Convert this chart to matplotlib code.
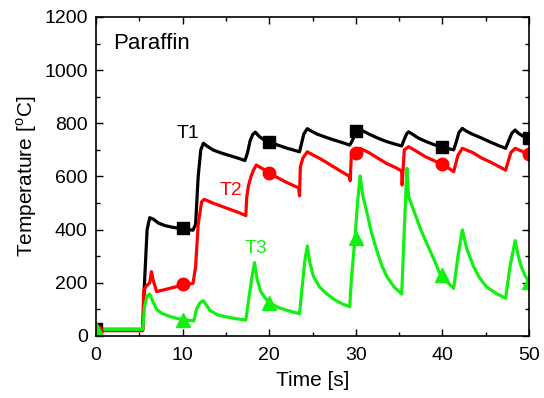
import matplotlib
matplotlib.use('Agg')
import matplotlib.pyplot as plt
from matplotlib.ticker import MultipleLocator

plt.rcParams['font.family'] = ['Liberation Sans', 'DejaVu Sans']
plt.rcParams['mathtext.fontset'] = 'custom'
plt.rcParams['mathtext.rm'] = 'Liberation Sans'

# T1 (black)
t1 = [0, 5.4, 5.6, 5.9, 6.2, 6.6, 7.2, 8.0, 9.0, 10.0, 11.2, 11.5, 11.8, 12.1, 12.4, 12.8,
      13.5, 14.5, 15.5, 16.5, 17.2, 17.5, 17.8, 18.1, 18.4, 18.8, 19.3, 20.0, 21, 22, 23.5,
      23.7, 24.0, 24.4, 24.8, 25.5, 26.5, 27.5, 28.5, 29.3, 29.6, 29.9, 30.2, 30.5, 30.9,
      31.5, 32.5, 33.5, 34.5, 35.3, 35.6, 35.9, 36.1, 36.5, 37.2, 38, 39, 40, 40.7, 41.3,
      41.6, 41.9, 42.3, 42.7, 43.4, 44.5, 45.5, 46.5, 47.3, 47.6, 48.0, 48.4, 48.8, 49.3, 50]
T1 = [25, 25, 200, 400, 445, 440, 425, 415, 408, 404, 398, 420, 600, 700, 725, 715,
      700, 688, 678, 668, 660, 690, 735, 758, 767, 752, 740, 731, 718, 707, 693,
      720, 760, 780, 772, 760, 748, 737, 727, 718, 735, 760, 774, 778, 770,
      760, 745, 732, 722, 715, 740, 762, 768, 760, 745, 733, 720, 712, 705, 700,
      730, 765, 781, 772, 760, 745, 730, 716, 706, 730, 762, 775, 762, 752, 742]

# T2 (red)
t2 = [0, 5.4, 5.5, 5.8, 6.2, 6.4, 6.6, 7.0, 8, 9, 10, 11.2, 11.5, 11.8, 12.2, 12.5, 13.5,
      14.5, 15.5, 16.5, 17.3, 17.4, 17.6, 17.9, 18.2, 18.5, 19.2, 20, 21, 22, 23.4, 23.5,
      23.6, 23.9, 24.4, 25, 26, 27, 28, 29.3, 29.35, 29.5, 29.8, 30.5, 31.5, 32.5, 33.5,
      34.5, 35.3, 35.35, 35.6, 36.1, 37, 38, 39, 40, 40.7, 41.3, 41.8, 42.3, 43.5, 44.5,
      45.5, 46.5, 47.3, 47.9, 48.4, 49.2, 50]
T2 = [20, 20, 170, 188, 200, 242, 210, 167, 175, 183, 192, 198, 260, 420, 505, 514, 500,
      488, 476, 464, 453, 520, 565, 600, 625, 643, 630, 612, 595, 578, 557, 527,
      637, 670, 693, 682, 665, 645, 625, 600, 584, 687, 690, 706, 690, 670, 650,
      635, 621, 568, 700, 712, 695, 675, 660, 647, 632, 618, 680, 706, 690, 670,
      655, 638, 624, 690, 706, 695, 683]

# T3 (green)
t3 = [0, 5.4, 5.6, 5.9, 6.2, 6.5, 7.0, 7.6, 8.5, 9.5, 10.5, 11.3, 11.6, 12.0, 12.4, 12.7,
      13.2, 14, 15, 16, 17.3, 17.6, 18.0, 18.3, 18.6, 19.0, 19.5, 20, 21, 22, 23.5, 23.7,
      24.1, 24.4, 24.7, 25.1, 25.8, 26.6, 27.5, 28.5, 29.3, 29.5, 29.9, 30.2, 30.5, 30.8,
      31.3, 31.8, 32.4, 33.0, 33.6, 34.4, 35.3, 35.6, 35.9, 36.1, 36.8, 37.5, 38.2, 39.0,
      39.7, 40.2, 40.7, 41.3, 41.8, 42.3, 42.8, 43.6, 44.3, 45.1, 46.2, 47.3, 47.8, 48.4,
      48.7, 49.1, 49.5, 50]
T3 = [25, 25, 110, 150, 158, 135, 100, 85, 74, 65, 60, 57, 100, 125, 133, 118,
      95, 80, 72, 66, 60, 130, 220, 276, 215, 168, 145, 125, 108, 97, 84, 150,
      280, 339, 275, 225, 185, 160, 137, 120, 110, 220, 365, 500, 602, 530,
      462, 390, 324, 265, 223, 185, 158, 400, 631, 524, 462, 400, 348, 290,
      235, 215, 198, 179, 300, 399, 330, 261, 218, 185, 160, 142, 260, 359,
      310, 261, 230, 204]

# marker points
mt = [0, 10, 20, 30, 40, 50]
M1 = [25, 405, 731, 770, 712, 744]
M2 = [20, 195, 612, 687, 647, 685]
M3 = [25, 62, 125, 368, 229, 205]

green = '#11F011'

fig = plt.figure(figsize=(5.44, 3.98), dpi=100)
ax = fig.add_axes([96/544, 1-336/398, (529-96)/544, (336-17)/398])

ax.plot(t1, T1, '-', color='black', lw=2.3)
ax.plot(t2, T2, '-', color='red', lw=2.3)
ax.plot(t3, T3, '-', color=green, lw=2.3)
ax.plot(mt, M1, 's', color='black', ms=8)
ax.plot(mt, M2, 'o', color='red', ms=9)
ax.plot(mt, M3, '^', color=green, ms=10)

ax.text(10.6, 760, 'T1', color='black', fontsize=14, ha='center', va='center')
ax.text(15.6, 546, 'T2', color='red', fontsize=14, ha='center', va='center')
ax.text(18.5, 331, 'T3', color=green, fontsize=14, ha='center', va='center')
ax.text(2.0, 1102, 'Paraffin', fontsize=16, ha='left', va='center')

ax.set_xlim(0, 50)
ax.set_ylim(0, 1200)
ax.xaxis.set_major_locator(MultipleLocator(10))
ax.xaxis.set_minor_locator(MultipleLocator(5))
ax.yaxis.set_major_locator(MultipleLocator(200))
ax.yaxis.set_minor_locator(MultipleLocator(100))
ax.tick_params(which='both', direction='in', top=True, right=True, labelsize=14, width=1)
ax.tick_params(which='major', length=5)
ax.tick_params(which='minor', length=3)
ax.tick_params(axis='x', which='major', pad=8)
ax.tick_params(axis='y', which='major', pad=6)
for s in ax.spines.values():
    s.set_linewidth(1.2)

ax.set_xlabel('Time [s]', fontsize=15, labelpad=5)
ax.set_ylabel('Temperature [$^\\mathregular{o}$C]', fontsize=15, labelpad=4)

fig.savefig('out.png', dpi=100)
